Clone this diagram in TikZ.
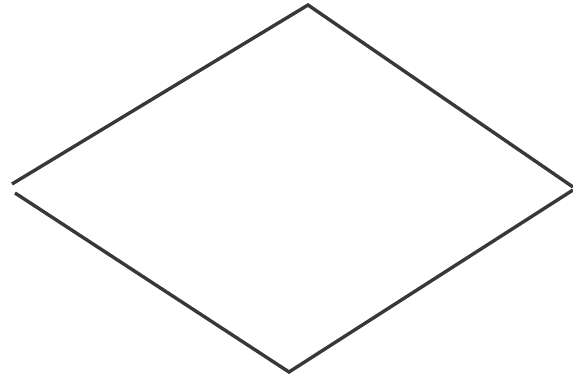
\documentclass[tikz,border=0pt]{standalone}
\begin{document}
\begin{tikzpicture}[x=1pt,y=-1pt,
  edge/.style={draw=black!78,line width=3.4pt,line join=miter,line cap=butt}]
\useasboundingbox (0,0) rectangle (573,377);
\coordinate (lu) at (12,184);
\coordinate (top) at (308,5);
\coordinate (ru) at (573,187);
\coordinate (ll) at (15,193);
\coordinate (bot) at (289,372);
\coordinate (rl) at (573,190);
\draw[edge] (lu) -- (top) -- (ru);
\draw[edge] (ll) -- (bot) -- (rl);
\end{tikzpicture}
\end{document}
